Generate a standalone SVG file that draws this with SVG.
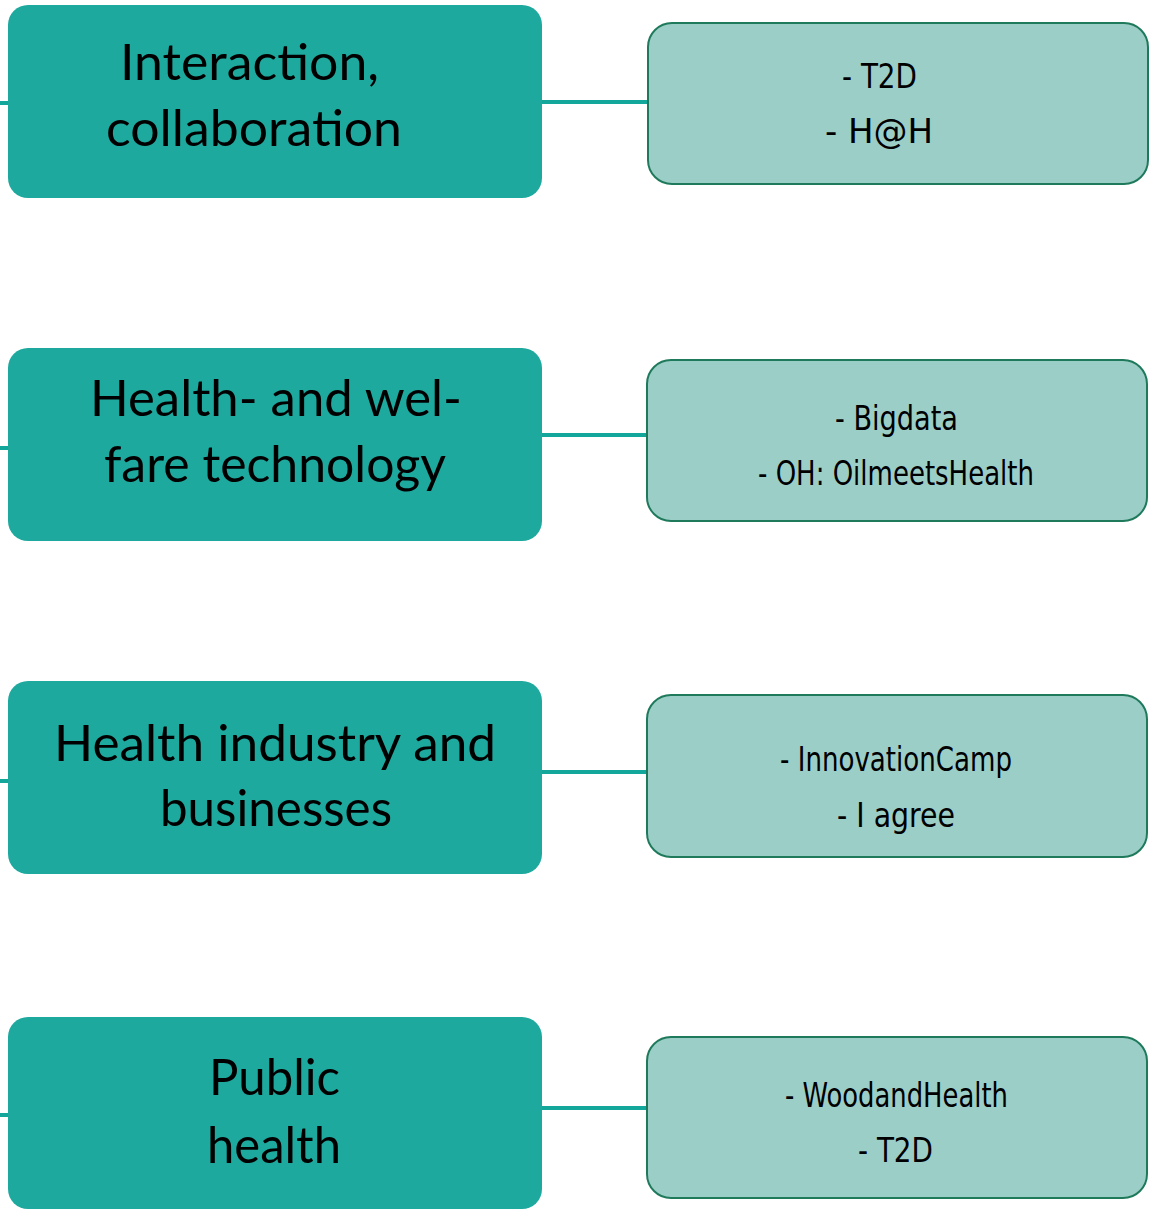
<svg xmlns="http://www.w3.org/2000/svg" width="1152" height="1210" viewBox="0 0 1152 1210">
<style>
.main{fill:#1DA99E}
.sub{fill:#9CCEC8;stroke:#1E7A5A;stroke-width:2}
.conn line{stroke:#12A79A;stroke-width:4}
.lt{font-family:Lato,"Open Sans","Liberation Sans",sans-serif;font-size:50px;fill:#000;text-anchor:start}
.rt{font-family:"DejaVu Sans Condensed","Liberation Sans",sans-serif;font-size:34px;fill:#000;text-anchor:start}
</style>
<rect width="1152" height="1210" fill="#fff"/>
<g id="connectors" class="conn">
<line x1="0" y1="103" x2="10" y2="103"/>
<line x1="540" y1="102" x2="649" y2="102"/>
<line x1="0" y1="448" x2="10" y2="448"/>
<line x1="540" y1="435" x2="649" y2="435"/>
<line x1="0" y1="781" x2="10" y2="781"/>
<line x1="540" y1="772" x2="649" y2="772"/>
<line x1="0" y1="1115" x2="10" y2="1115"/>
<line x1="540" y1="1108" x2="649" y2="1108"/>
</g>
<g id="n1">
<rect class="main" x="8" y="5" width="534" height="193" rx="20"/>
<text class="lt" x="120" y="80" textLength="259" lengthAdjust="spacingAndGlyphs">Interaction,</text>
<text class="lt" x="106" y="146" textLength="296" lengthAdjust="spacingAndGlyphs">collaboration</text>
</g>
<g id="n2">
<rect class="main" x="8" y="348" width="534" height="193" rx="20"/>
<text class="lt" x="90" y="416" textLength="372" lengthAdjust="spacingAndGlyphs">Health- and wel-</text>
<text class="lt" x="104" y="482" textLength="342" lengthAdjust="spacingAndGlyphs">fare technology</text>
</g>
<g id="n3">
<rect class="main" x="8" y="681" width="534" height="193" rx="20"/>
<text class="lt" x="54" y="761" textLength="442" lengthAdjust="spacingAndGlyphs">Health industry and</text>
<text class="lt" x="160" y="826" textLength="232" lengthAdjust="spacingAndGlyphs">businesses</text>
</g>
<g id="n4">
<rect class="main" x="8" y="1017" width="534" height="192" rx="20"/>
<text class="lt" x="209" y="1095" textLength="131" lengthAdjust="spacingAndGlyphs">Public</text>
<text class="lt" x="207" y="1163" textLength="134" lengthAdjust="spacingAndGlyphs">health</text>
</g>
<g id="s1">
<rect class="sub" x="648" y="23" width="500" height="161" rx="24"/>
<text class="rt" x="842" y="88" textLength="75" lengthAdjust="spacingAndGlyphs">- T2D</text>
<text class="rt" x="825" y="143" textLength="108" lengthAdjust="spacingAndGlyphs">- H@H</text>
</g>
<g id="s2">
<rect class="sub" x="647" y="360" width="500" height="161" rx="24"/>
<text class="rt" x="835" y="430" textLength="123" lengthAdjust="spacingAndGlyphs">- Bigdata</text>
<text class="rt" x="758" y="485" textLength="276" lengthAdjust="spacingAndGlyphs">- OH: OilmeetsHealth</text>
</g>
<g id="s3">
<rect class="sub" x="647" y="695" width="500" height="162" rx="24"/>
<text class="rt" x="780" y="771" textLength="232" lengthAdjust="spacingAndGlyphs">- InnovationCamp</text>
<text class="rt" x="837" y="827" textLength="118" lengthAdjust="spacingAndGlyphs">- I agree</text>
</g>
<g id="s4">
<rect class="sub" x="647" y="1037" width="500" height="161" rx="24"/>
<text class="rt" x="785" y="1107" textLength="223" lengthAdjust="spacingAndGlyphs">- WoodandHealth</text>
<text class="rt" x="858" y="1162" textLength="75" lengthAdjust="spacingAndGlyphs">- T2D</text>
</g>
</svg>
